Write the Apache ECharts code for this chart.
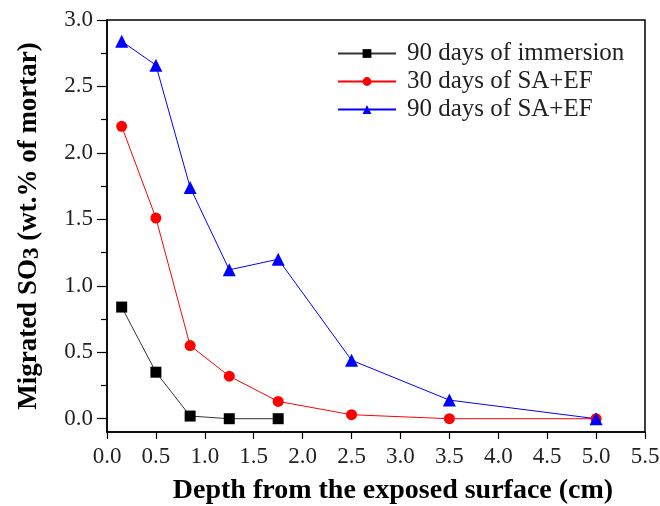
<!DOCTYPE html>
<html>
<head>
<meta charset="utf-8">
<script src="https://cdn.jsdelivr.net/npm/echarts@6/dist/echarts.min.js"></script>
<style>
  html, body { margin: 0; padding: 0; background: #fff; }
  #chart { width: 660px; height: 506px; }
</style>
</head>
<body>
<div id="chart"></div>
<script>
// depths (cm)
const depthShort = [0.15, 0.5, 0.85, 1.25, 1.75];
const depthLong = [0.15, 0.5, 0.85, 1.25, 1.75, 2.5, 3.5, 5.0];
// migrated SO3 (wt.% of mortar)
const immersion90 = [0.84, 0.35, 0.02, 0.0, 0.0];
const saef30 = [2.2, 1.51, 0.55, 0.32, 0.13, 0.03, 0.0, 0.0];
const saef90 = [2.84, 2.66, 1.74, 1.12, 1.2, 0.44, 0.14, 0.0];
const yTicks = [0, 0.5, 1.0, 1.5, 2.0, 2.5, 3.0];
const yMinorTicks = [0.25, 0.75, 1.25, 1.75, 2.25, 2.75];

const font = "'Liberation Serif', 'Times New Roman', serif";
const ink = "#222";

const pairs = (xs, ys) => xs.map((x, i) => [x, ys[i]]);

const chart = echarts.init(document.getElementById("chart"));

const option = {
  animation: false,
  textStyle: { fontFamily: font },
  grid: {
    left: 107,
    right: 15,
    top: 20,
    bottom: 74,
    outerBoundsMode: "none",
    show: true,
    borderColor: "#000",
    borderWidth: 1.5,
  },
  legend: {
    orient: "vertical",
    left: 332,
    top: 36,
    itemWidth: 58,
    itemHeight: 11,
    itemGap: 3,
    textStyle: { fontFamily: font, fontSize: 25, color: ink, padding: [0, 0, 0, 6] },
    data: ["90 days of immersion", "30 days of SA+EF", "90 days of SA+EF"],
  },
  xAxis: {
    type: "value",
    min: 0,
    max: 5.5,
    interval: 0.5,
    name: "Depth from the exposed surface (cm)",
    nameLocation: "middle",
    nameGap: 45,
    nameTextStyle: {
      fontFamily: font,
      fontSize: 28,
      fontWeight: "bold",
      color: "#000",
      padding: [0, 0, 0, 34],
    },
    axisLine: { onZero: false, lineStyle: { color: "#000", width: 1.5 } },
    axisTick: { inside: false, length: 7, lineStyle: { color: "#000", width: 1.2 } },
    axisLabel: {
      fontFamily: font,
      fontSize: 23,
      color: ink,
      margin: 13,
      formatter: (v) => v.toFixed(1),
    },
    splitLine: { show: false },
  },
  yAxis: [
    {
      type: "value",
      min: -0.1,
      max: 3.0,
      name: "Migrated SO{sub|3} (wt.% of mortar)",
      nameLocation: "middle",
      nameGap: 63,
      nameTextStyle: {
        fontFamily: font,
        fontSize: 27,
        fontWeight: "bold",
        color: "#000",
        rich: {
          sub: { fontFamily: font, fontSize: 23, fontWeight: "bold", color: "#000", padding: [6, 0, 0, 0] },
        },
      },
      axisLine: { onZero: false, lineStyle: { color: "#000", width: 1.5 } },
      axisTick: {
        length: 10,
        customValues: yTicks,
        lineStyle: { color: "#000", width: 1.2 },
      },
      axisLabel: {
        fontFamily: font,
        fontSize: 23,
        color: ink,
        margin: 14,
        customValues: yTicks,
        formatter: (v) => v.toFixed(1),
      },
      splitLine: { show: false },
    },
    {
      type: "value",
      position: "left",
      min: -0.1,
      max: 3.0,
      axisLine: { show: false },
      axisTick: {
        length: 6,
        customValues: yMinorTicks,
        lineStyle: { color: "#000", width: 1.2 },
      },
      axisLabel: { show: false },
      splitLine: { show: false },
    },
  ],
  series: [
    {
      name: "90 days of immersion",
      type: "line",
      data: pairs(depthShort, immersion90),
      symbol: "rect",
      symbolSize: 11,
      itemStyle: { color: "#000" },
      lineStyle: { color: "#333", width: 1 },
    },
    {
      name: "30 days of SA+EF",
      type: "line",
      data: pairs(depthLong, saef30),
      symbol: "circle",
      symbolSize: 11,
      itemStyle: { color: "#ff0000" },
      lineStyle: { color: "#ff0000", width: 1 },
    },
    {
      name: "90 days of SA+EF",
      type: "line",
      data: pairs(depthLong, saef90),
      symbol: "triangle",
      symbolSize: 13,
      itemStyle: { color: "#0000ff" },
      lineStyle: { color: "#0000ff", width: 1 },
    },
  ],
};

chart.setOption(option);
</script>
</body>
</html>
